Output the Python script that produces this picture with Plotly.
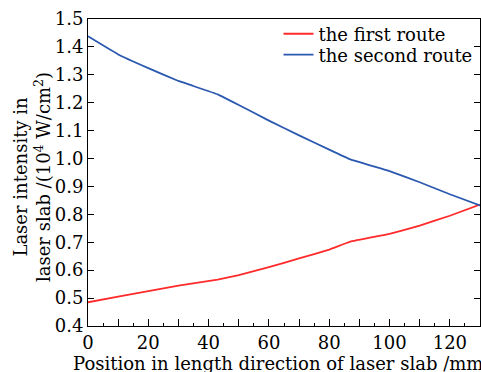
import plotly.graph_objects as go

pos_first = [0, 10, 20, 30, 43, 50, 60, 70, 80, 87, 100, 110, 120, 130]
first_route = [0.485, 0.505, 0.525, 0.545, 0.566, 0.582, 0.611, 0.642, 0.674, 0.702, 0.730, 0.760, 0.795, 0.835]

pos_second = [0, 10, 20, 30, 43, 50, 60, 70, 80, 87, 100, 110, 120, 130]
second_route = [1.438, 1.373, 1.324, 1.278, 1.230, 1.192, 1.136, 1.083, 1.032, 0.997, 0.955, 0.915, 0.872, 0.832]

x_tickvals = list(range(0, 131, 10))
x_ticktext = [str(v) if v % 20 == 0 else "" for v in x_tickvals]
y_tickvals = [0.4, 0.5, 0.6, 0.7, 0.8, 0.9, 1.0, 1.1, 1.2, 1.3, 1.4, 1.5]
y_ticktext = ["0.4", "0.5", "0.6", "0.7", "0.8", "0.9", "1.0", "1.1", "1.2", "1.3", "1.4", "1.5"]

FONT = "DejaVu Serif"

fig = go.Figure()
fig.add_trace(go.Scatter(x=pos_first, y=first_route, mode="lines", name="the first route",
                         legend="legend",
                         line=dict(color="#ff2a2a", width=1.8, shape="spline", smoothing=0.2)))
fig.add_trace(go.Scatter(x=pos_second, y=second_route, mode="lines", name="the second route",
                         legend="legend2",
                         line=dict(color="#2b59b0", width=1.8, shape="spline", smoothing=0.2)))

legend_common = dict(xanchor="left", yanchor="middle", bgcolor="rgba(0,0,0,0)",
                     font=dict(family=FONT, size=18), itemwidth=30)

fig.update_layout(
    width=481, height=372,
    margin=dict(l=88, r=1, t=19, b=46),
    paper_bgcolor="white", plot_bgcolor="white",
    font=dict(family=FONT, size=18, color="black"),
    showlegend=True,
    legend=dict(x=0.486, y=0.951, **legend_common),
    legend2=dict(x=0.486, y=0.883, **legend_common),
    xaxis=dict(range=[0, 130], tickvals=x_tickvals, ticktext=x_ticktext,
               ticks="inside", ticklen=7, tickcolor="black", showline=True, linecolor="black",
               linewidth=1, mirror=True, showgrid=False, zeroline=False,
               minor=dict(dtick=5, tick0=0, ticks="inside", ticklen=3, tickcolor="black", showgrid=False),
               tickfont=dict(family=FONT, size=18)),
    yaxis=dict(range=[0.4, 1.5], tickvals=y_tickvals, ticktext=y_ticktext,
               ticks="inside", ticklen=6, tickcolor="black", showline=True, linecolor="black",
               linewidth=1, mirror="ticks", showgrid=False, zeroline=False,
               tickfont=dict(family=FONT, size=18)),
)

fig.add_annotation(text="Position in length direction of laser slab /mm",
                   xref="paper", yref="paper", x=0.485, y=-0.08, xanchor="center", yanchor="top",
                   showarrow=False, font=dict(family=FONT, size=18))
fig.add_annotation(text="Laser intensity in<br>laser slab /(10<sup>4</sup> W/cm<sup>2</sup>)",
                   xref="paper", yref="paper", x=-0.143, y=0.485, xanchor="center", yanchor="middle",
                   textangle=-90, showarrow=False, font=dict(family=FONT, size=18))

fig.write_html("out.html")
